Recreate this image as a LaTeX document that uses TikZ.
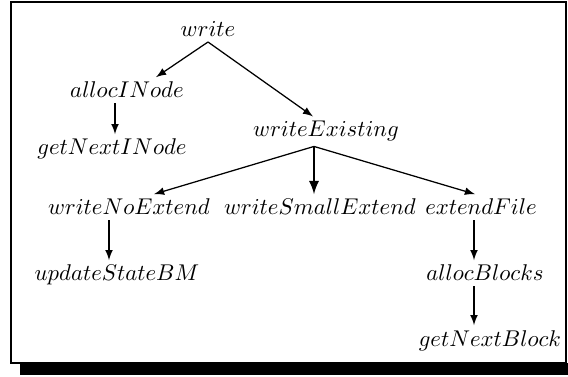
\documentclass[tikz,border=0pt]{standalone}
\usepackage{amsmath,amssymb}
\usepackage{xcolor}
\usepackage{tikz}
\usetikzlibrary{calc}
\usetikzlibrary{positioning}
\tikzset{
	fn/.style={inner sep=2pt, anchor=base},
	call/.style={->, >=latex, line width=0.55pt},
	bigcall/.style={->, >=latex, line width=1pt}
}

\begin{document}
\begin{tikzpicture}[x=0.01543cm, y=-0.01543cm]
\useasboundingbox (0,0) rectangle (568,377);
       % frame with shadow
       \fill[black] (20,363) rectangle (580,375);
       \draw[line width=0.9pt, fill=white] (11,2) rectangle (566,363);

       \node[fn] (write) at (208,37) {$write$};
       
       \node[fn] (allocINode) at (127,98) {$allocINode$};
       \node[fn] (getNextINode) at (112,155) {$getNextINode$};
       
       \node[fn] (writeExisting) at (326,137) {$writeExisting$};
       
       \node[fn] (writeNoExtend) at (129,215) {$writeNoExtend$};
       \node[fn] (writeSmallExtend) at (320,215) {$writeSmallExtend$};
       \node[fn] (extendFile) at (481,215) {$extendFile$};
       
       \node[fn] (updateStateBM) at (117,281) {$updateStateBM$};
       \node[fn] (allocBlocks) at (485,281) {$allocBlocks$};
       \node[fn] (getNextBlock) at (490,346) {$getNextBlock$};
       
       \draw[call] (write.south) -- ($(allocINode.north)+(29,0)$);
       \draw[call] (write.south) -- ($(writeExisting.north)+(-13,0)$);
       
       \coordinate (colL) at ($(allocINode.south)+(-12,0)$);
       \draw[call] (colL) -- (colL |- getNextINode.north);
       
       \coordinate (hub) at ($(writeExisting.south)+(-12,0)$);
       \draw[call] (hub) -- ($(writeNoExtend.north)+(25,0)$);
       \draw[bigcall] (hub) -- (hub |- writeSmallExtend.north);
       \draw[call] (hub) -- ($(extendFile.north)+(-6,0)$);
       
       \coordinate (colM) at ($(writeNoExtend.south)+(-20,0)$);
       \draw[call] (colM) -- (colM |- updateStateBM.north);
       
       \coordinate (colR) at ($(extendFile.south)+(-7,0)$);
       \draw[call] (colR) -- (colR |- allocBlocks.north);
       \draw[call] (colR |- allocBlocks.south) -- (colR |- getNextBlock.north);
\end{tikzpicture}
\end{document}
